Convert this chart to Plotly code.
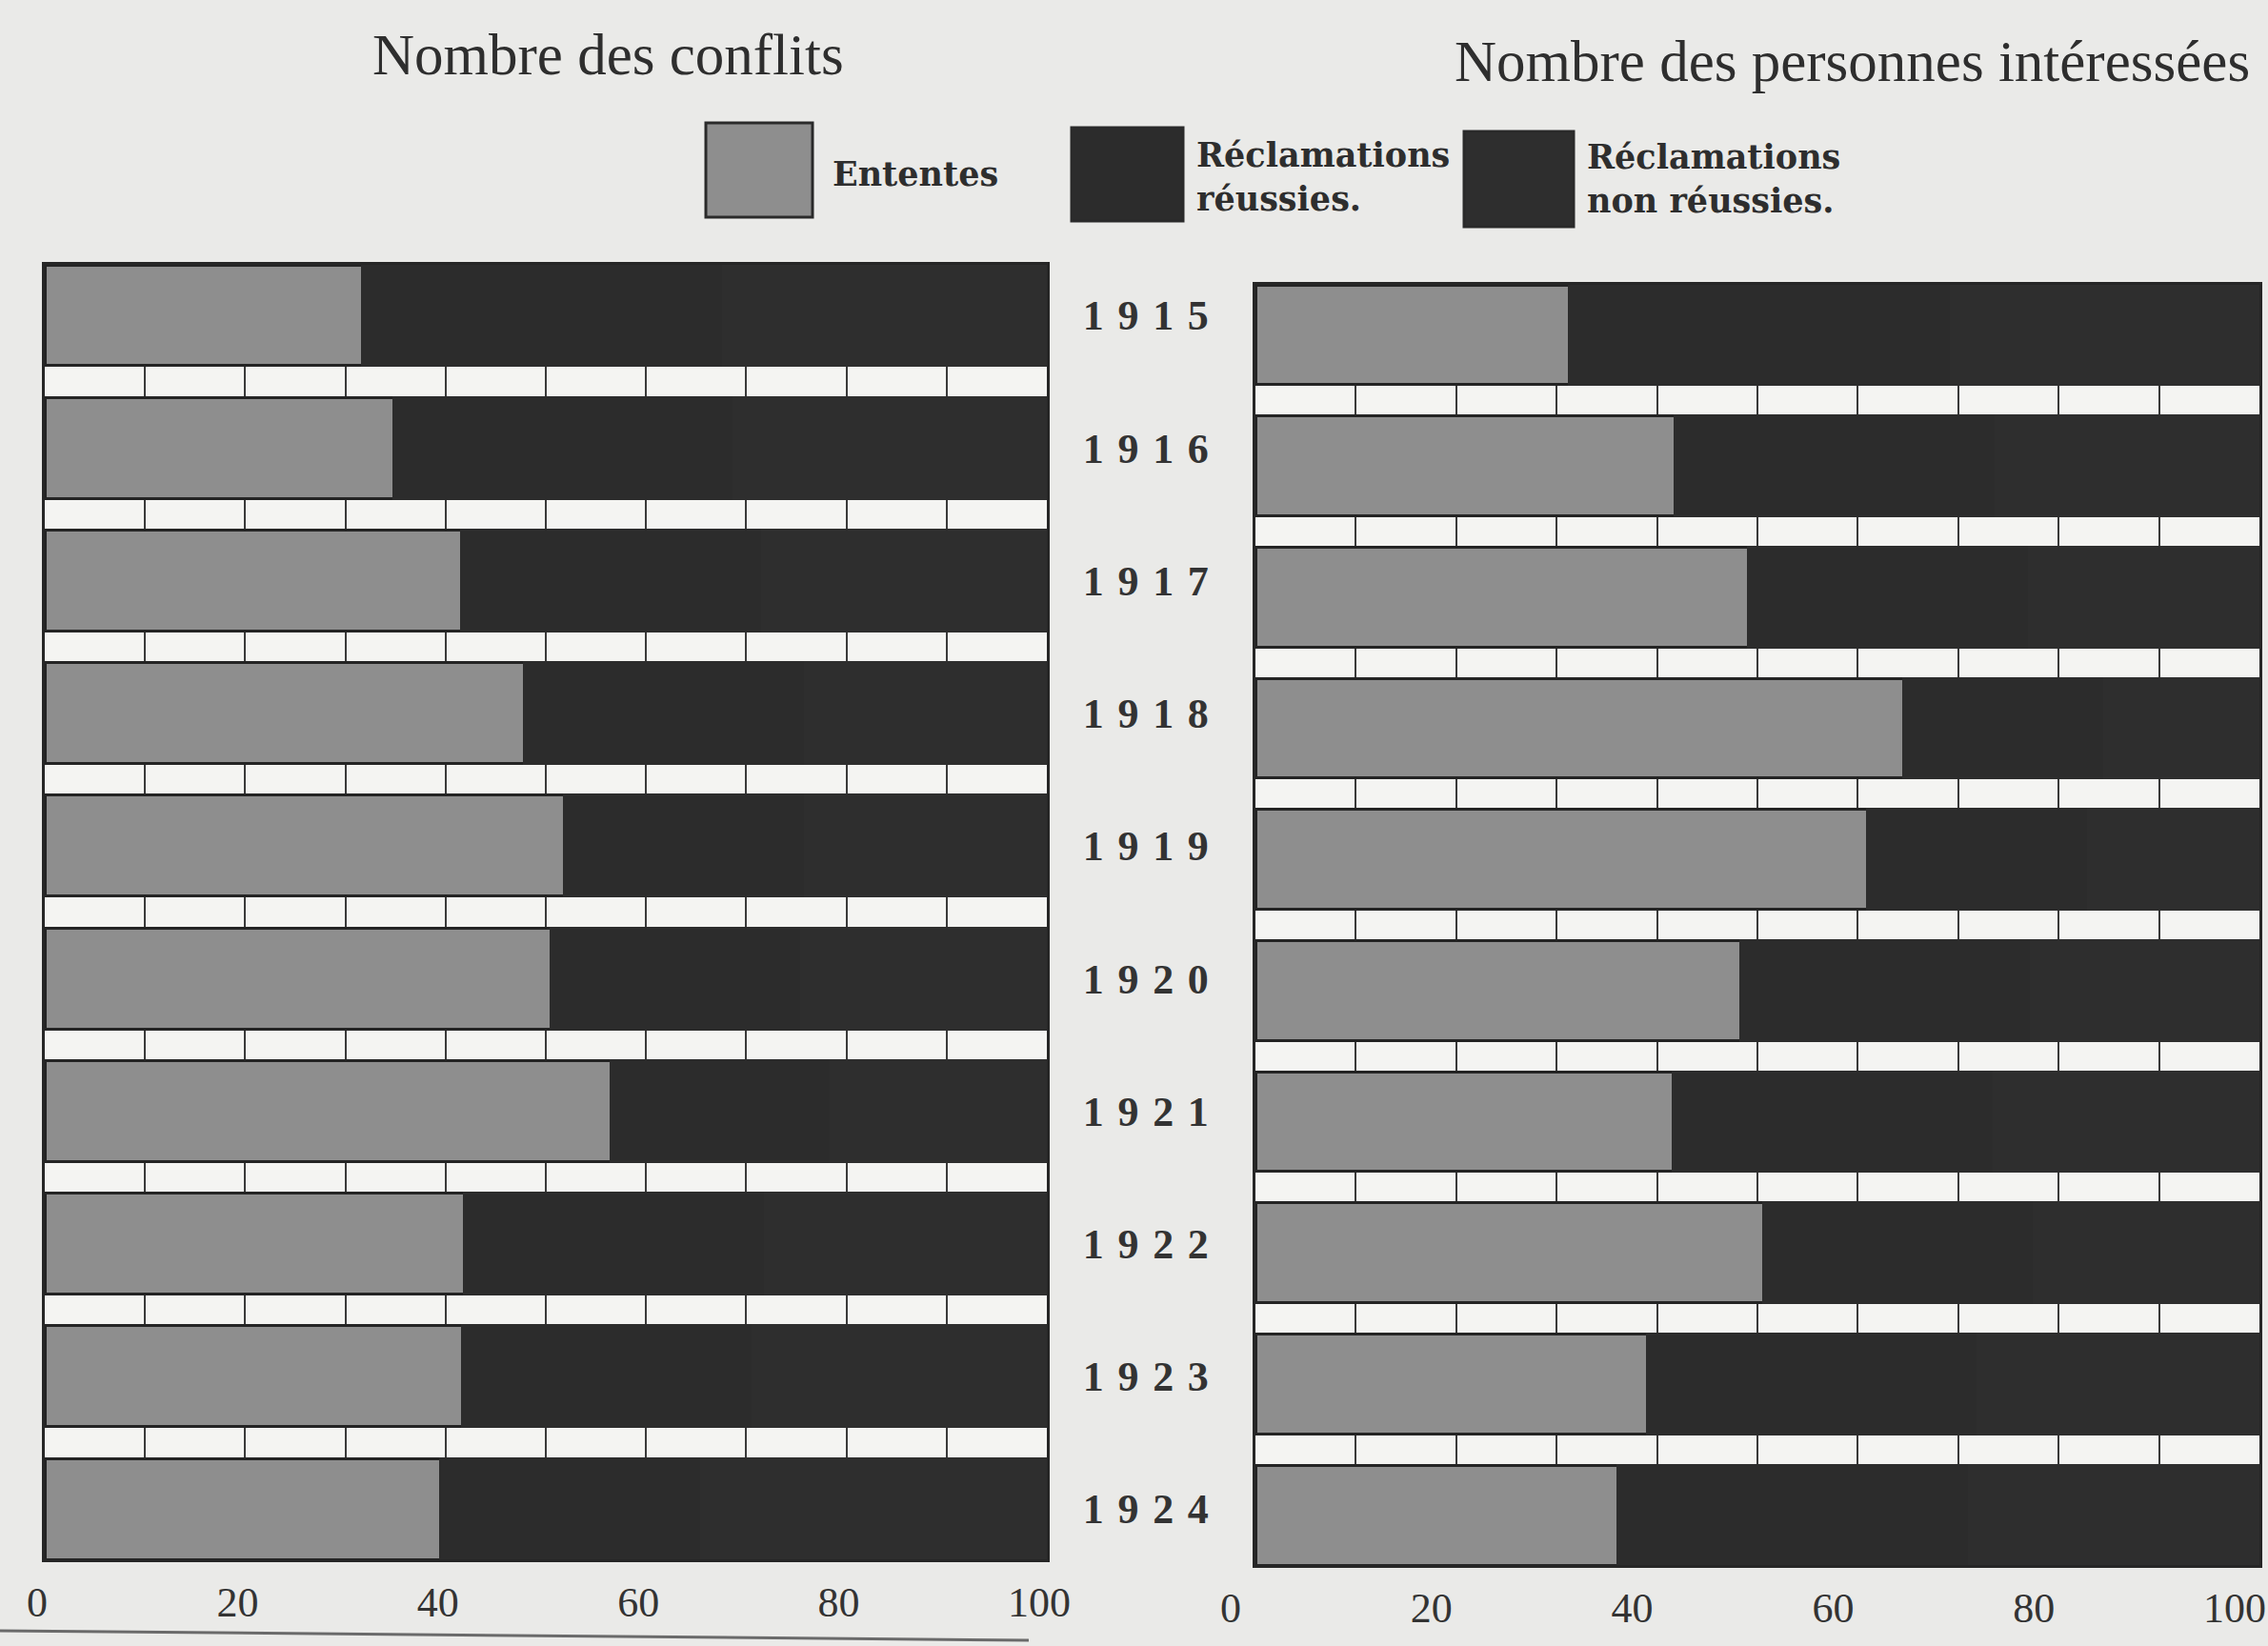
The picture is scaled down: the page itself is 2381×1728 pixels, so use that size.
import plotly.graph_objects as go
from plotly.subplots import make_subplots

years = ["1915", "1916", "1917", "1918", "1919", "1920", "1921", "1922", "1923", "1924"]
year_labels = ["\u2004".join(list(y)) for y in years]

# Left panel: Nombre des conflits (percent)
conflits_ententes = [31.7, 34.8, 41.6, 47.9, 51.9, 50.5, 56.5, 41.9, 41.7, 39.5]
conflits_reussies = [36.0, 34.0, 30.0, 28.0, 24.0, 25.0, 22.0, 30.0, 29.0, 26.0]
conflits_non_reussies = [round(100 - a - b, 1) for a, b in zip(conflits_ententes, conflits_reussies)]

# Right panel: Nombre des personnes intéressées (percent)
personnes_ententes = [31.3, 41.8, 49.1, 64.6, 61.0, 48.3, 41.6, 50.6, 39.0, 36.1]
personnes_reussies = [38.0, 32.0, 28.0, 20.0, 22.0, 29.0, 32.0, 27.0, 33.0, 35.0]
personnes_non_reussies = [round(100 - a - b, 1) for a, b in zip(personnes_ententes, personnes_reussies)]

series_names = ["Ententes", "Réclamations réussies.", "Réclamations non réussies."]
legend_labels = ["Ententes", "Réclamations<br>réussies.", "Réclamations<br>non réussies."]
tick_values = [0, 20, 40, 60, 80, 100]
tick_labels = ["0", "20", "40", "60", "80", "100"]

C_GRAY = "#8e8e8e"
C_DARK1 = "#2c2c2c"
C_DARK2 = "#2e2e2e"
C_EDGE = "#242424"
PAGE = "#eaeae8"
BAND = "#f4f4f2"
SERIF = "Liberation Serif"
W, H = 2381, 1728

fig = make_subplots(rows=1, cols=2, horizontal_spacing=0.05)

panels = [
    (1, conflits_ententes, conflits_reussies, conflits_non_reussies),
    (2, personnes_ententes, personnes_reussies, personnes_non_reussies),
]
colors = [C_GRAY, C_DARK1, C_DARK2]
edges = [C_EDGE, C_DARK1, C_DARK2]
for col, ent, reu, non in panels:
    for vals, color, edge, name in zip([ent, reu, non], colors, edges, series_names):
        fig.add_trace(go.Bar(
            y=years, x=vals, orientation="h", name=name,
            marker=dict(color=color, line=dict(color=edge, width=3)),
            showlegend=False, hoverinfo="x+y+name",
        ), row=1, col=col)

bargap = 0.24
half = (1 - bargap) / 2
axis_common = dict(
    range=[0, 100], tickvals=tick_values, ticktext=tick_labels,
    showgrid=True, gridcolor="#3a3a3a", gridwidth=2,
    minor=dict(dtick=10, tick0=0, showgrid=True, gridcolor="#3a3a3a", gridwidth=2),
    showline=True, mirror=True, linecolor="#262626", linewidth=3,
    zeroline=False, ticks="", automargin=False, ticklabeloverflow="allow",
    tickfont=dict(family=SERIF, size=44, color="#333333"),
    ticklabelstandoff=4,
)
fig.update_xaxes(**axis_common)
fig.update_yaxes(
    type="category", categoryorder="array", categoryarray=years,
    range=[len(years) - 1 + half, -half],
    showticklabels=False, showgrid=False, zeroline=False, ticks="",
    showline=True, mirror=True, linecolor="#262626", linewidth=3,
    automargin=False,
)

fig.update_layout(
    width=W, height=H,
    margin=dict(l=0, r=0, t=0, b=0),
    paper_bgcolor=PAGE, plot_bgcolor=BAND,
    barmode="stack", bargap=bargap,
    xaxis=dict(domain=[47 / W, 1099 / W], ticklabelshift=-8),
    xaxis2=dict(domain=[1318 / W, 2372 / W], ticklabelshift=-26),
    yaxis=dict(domain=[1 - 1637 / H, 1 - 278 / H], side="right",
               showticklabels=True, tickvals=years, ticktext=year_labels,
               ticklabelstandoff=26,
               tickfont=dict(family=SERIF, size=44, color="#333333", weight="bold")),
    yaxis2=dict(domain=[1 - 1643 / H, 1 - 299 / H]),
)

annotations = []
# Titles
annotations.append(dict(text="Nombre des conflits", x=638 / W, y=1 - 58 / H,
                        xref="paper", yref="paper", showarrow=False,
                        xanchor="center", yanchor="middle",
                        font=dict(family=SERIF, size=61, color="#2e2e2e")))
annotations.append(dict(text="Nombre des personnes intéressées", x=1944 / W, y=1 - 65 / H,
                        xref="paper", yref="paper", showarrow=False,
                        xanchor="center", yanchor="middle",
                        font=dict(family=SERIF, size=61, color="#2e2e2e")))

# Legend (drawn as swatches + labels)
legend_boxes = [(741, 853, 129, 228), (1125, 1242, 134, 232), (1537, 1652, 138, 238)]
legend_text_pos = [(872, 182), (1254, 186), (1664, 188)]
shapes = []
for color, (x0, x1, y0, y1), label, (tx, ty) in zip(colors, legend_boxes, legend_labels, legend_text_pos):
    shapes.append(dict(type="rect", xref="paper", yref="paper",
                       x0=x0 / W, x1=x1 / W, y0=1 - y1 / H, y1=1 - y0 / H,
                       fillcolor=color, line=dict(color="#2a2a2a", width=3)))
    annotations.append(dict(text=label, x=tx / W, y=1 - ty / H,
                            xref="paper", yref="paper", showarrow=False,
                            xanchor="left", yanchor="middle", align="left",
                            font=dict(family="DejaVu Serif", size=35, color="#2e2e2e",
                                      weight="bold")))

# Page edge line at bottom left
shapes.append(dict(type="line", xref="paper", yref="paper",
                   x0=0, x1=1080 / W, y0=1 - 1712 / H, y1=1 - 1722 / H,
                   line=dict(color="#6a6a6a", width=3)))

fig.update_layout(annotations=annotations, shapes=shapes)
fig.write_html("out.html",
               config={"displayModeBar": False},
               post_script="document.body.style.margin='0';document.body.style.background='#eaeae8';")
